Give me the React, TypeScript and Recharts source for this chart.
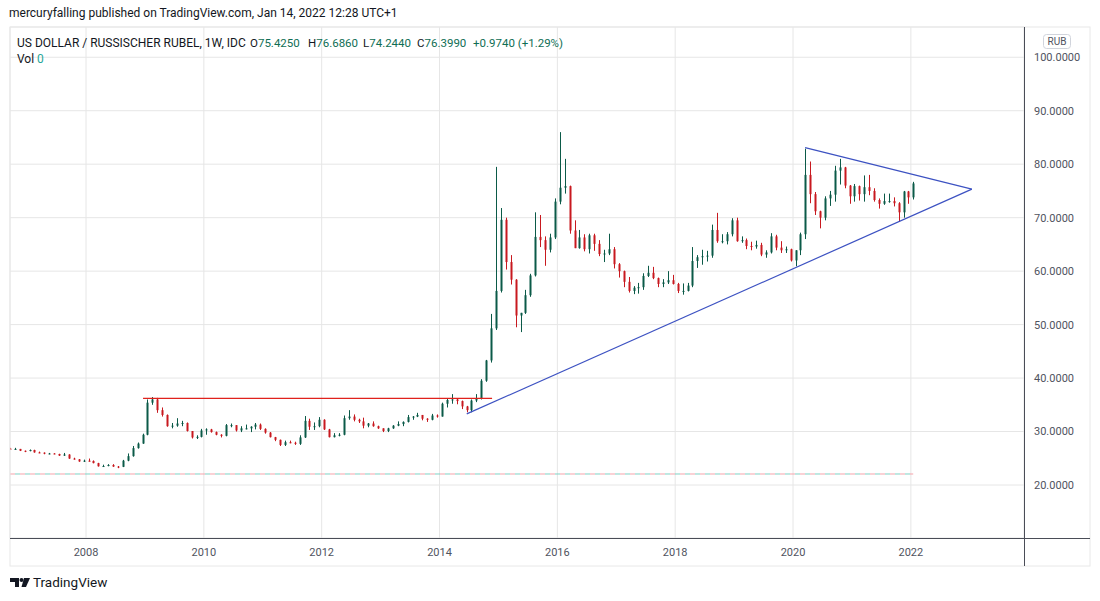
import React from "react";
import { Bar, CartesianGrid, ComposedChart, ReferenceLine, XAxis, YAxis } from "recharts";

// monthly candles, USD/RUB, Sep 2006 .. Jan 2022
const months: string[] = [
  "2006-09", "2006-10", "2006-11", "2006-12",
  "2007-01", "2007-02", "2007-03", "2007-04", "2007-05", "2007-06", "2007-07", "2007-08", "2007-09", "2007-10", "2007-11", "2007-12",
  "2008-01", "2008-02", "2008-03", "2008-04", "2008-05", "2008-06", "2008-07", "2008-08", "2008-09", "2008-10", "2008-11", "2008-12",
  "2009-01", "2009-02", "2009-03", "2009-04", "2009-05", "2009-06", "2009-07", "2009-08", "2009-09", "2009-10", "2009-11", "2009-12",
  "2010-01", "2010-02", "2010-03", "2010-04", "2010-05", "2010-06", "2010-07", "2010-08", "2010-09", "2010-10", "2010-11", "2010-12",
  "2011-01", "2011-02", "2011-03", "2011-04", "2011-05", "2011-06", "2011-07", "2011-08", "2011-09", "2011-10", "2011-11", "2011-12",
  "2012-01", "2012-02", "2012-03", "2012-04", "2012-05", "2012-06", "2012-07", "2012-08", "2012-09", "2012-10", "2012-11", "2012-12",
  "2013-01", "2013-02", "2013-03", "2013-04", "2013-05", "2013-06", "2013-07", "2013-08", "2013-09", "2013-10", "2013-11", "2013-12",
  "2014-01", "2014-02", "2014-03", "2014-04", "2014-05", "2014-06", "2014-07", "2014-08", "2014-09", "2014-10", "2014-11", "2014-12",
  "2015-01", "2015-02", "2015-03", "2015-04", "2015-05", "2015-06", "2015-07", "2015-08", "2015-09", "2015-10", "2015-11", "2015-12",
  "2016-01", "2016-02", "2016-03", "2016-04", "2016-05", "2016-06", "2016-07", "2016-08", "2016-09", "2016-10", "2016-11", "2016-12",
  "2017-01", "2017-02", "2017-03", "2017-04", "2017-05", "2017-06", "2017-07", "2017-08", "2017-09", "2017-10", "2017-11", "2017-12",
  "2018-01", "2018-02", "2018-03", "2018-04", "2018-05", "2018-06", "2018-07", "2018-08", "2018-09", "2018-10", "2018-11", "2018-12",
  "2019-01", "2019-02", "2019-03", "2019-04", "2019-05", "2019-06", "2019-07", "2019-08", "2019-09", "2019-10", "2019-11", "2019-12",
  "2020-01", "2020-02", "2020-03", "2020-04", "2020-05", "2020-06", "2020-07", "2020-08", "2020-09", "2020-10", "2020-11", "2020-12",
  "2021-01", "2021-02", "2021-03", "2021-04", "2021-05", "2021-06", "2021-07", "2021-08", "2021-09", "2021-10", "2021-11", "2021-12",
  "2022-01",
];

const opens: number[] = [
  26.8, 26.75, 26.75, 26.4,
  26.35, 26.55, 26.1, 26.05, 25.85, 25.9, 25.8, 25.5, 25.7, 24.95, 24.8, 24.4,
  24.55, 24.5, 24.1, 23.5, 23.55, 23.75, 23.45, 23.4, 24.55, 25.4, 26.9, 27.75,
  29.4, 35.4, 36.0, 34.0, 33.1, 31.0, 31.1, 31.5, 31.6, 30.1, 28.9, 29.0,
  30.2, 30.4, 29.9, 29.4, 29.2, 31.2, 31.2, 30.2, 30.6, 30.6, 30.9, 31.3,
  30.5, 29.8, 28.95, 28.45, 27.5, 28.0, 27.9, 27.7, 28.9, 32.0, 30.9, 31.0,
  32.2, 30.4, 28.95, 29.3, 29.4, 32.5, 32.8, 32.2, 31.9, 31.1, 31.5, 31.0,
  30.6, 30.1, 30.6, 31.1, 31.4, 31.8, 32.7, 32.8, 33.1, 32.4, 32.2, 33.0,
  32.8, 35.2, 35.9, 36.0, 35.7, 34.7, 34.0, 35.8, 36.1, 39.5, 43.3, 49.3,
  56.3, 69.6, 61.7, 58.4, 51.7, 52.2, 55.5, 59.2, 66.4, 65.8, 64.0, 66.3,
  73.0, 75.6, 75.9, 67.6, 64.3, 66.3, 64.1, 66.7, 65.1, 63.2, 63.3, 64.1,
  61.3, 60.0, 58.0, 56.3, 56.9, 57.0, 59.1, 59.7, 58.7, 57.6, 57.9, 58.3,
  57.6, 56.3, 56.3, 57.3, 61.9, 62.6, 62.8, 62.9, 67.7, 65.6, 65.6, 66.9,
  69.5, 65.6, 65.8, 64.7, 64.6, 64.9, 63.1, 63.5, 66.5, 64.4, 63.9, 64.1,
  62.0, 63.9, 66.9, 78.0, 74.4, 71.2, 70.0, 73.6, 74.3, 78.8, 79.4, 76.0,
  74.0, 75.9, 74.4, 75.7, 75.0, 73.3, 72.6, 73.1, 73.1, 72.7, 71.0, 74.9,
  73.8,
];

const highs: number[] = [
  26.95, 26.95, 26.75, 26.45,
  26.65, 26.6, 26.25, 26.1, 26.0, 25.95, 25.85, 26.0, 25.75, 25.1, 24.85, 24.75,
  24.95, 24.6, 24.15, 23.8, 23.9, 23.9, 23.55, 24.7, 25.9, 27.3, 27.95, 29.6,
  36.0, 36.45, 36.3, 34.5, 33.2, 31.6, 32.5, 32.0, 31.7, 30.1, 29.3, 30.5,
  30.6, 30.5, 30.0, 29.5, 31.4, 31.5, 31.2, 31.0, 31.3, 31.0, 31.6, 31.5,
  30.6, 29.9, 29.0, 28.5, 28.3, 28.3, 28.1, 29.3, 32.9, 32.4, 31.7, 32.7,
  32.3, 30.5, 29.7, 29.7, 33.0, 34.0, 33.2, 32.4, 32.6, 31.6, 31.9, 31.1,
  30.6, 30.7, 31.2, 31.9, 31.9, 33.1, 32.9, 33.5, 33.1, 32.5, 33.3, 33.2,
  35.4, 36.2, 37.0, 36.2, 35.8, 34.8, 36.0, 37.0, 39.8, 43.4, 52.0, 79.5,
  71.8, 70.0, 63.0, 58.5, 52.2, 56.5, 59.5, 71.0, 70.5, 66.5, 67.0, 73.6,
  86.0, 81.0, 76.0, 69.5, 67.7, 66.9, 67.0, 67.0, 65.8, 64.0, 67.0, 64.5,
  61.5, 60.1, 58.9, 57.2, 57.8, 59.6, 61.0, 60.8, 58.8, 58.5, 60.0, 59.3,
  57.8, 57.7, 57.8, 64.5, 63.0, 64.0, 63.8, 68.7, 70.9, 66.9, 67.3, 69.9,
  70.0, 66.5, 66.1, 65.5, 65.7, 65.3, 63.9, 67.1, 66.8, 65.6, 64.6, 64.2,
  63.9, 67.2, 82.9, 80.5, 74.8, 71.3, 74.0, 75.0, 79.7, 81.0, 79.5, 76.1,
  76.3, 76.0, 77.9, 78.0, 75.5, 73.6, 74.5, 74.5, 73.8, 72.9, 75.0, 75.0,
  76.7,
];

const lows: number[] = [
  26.7, 26.65, 26.35, 26.15,
  26.3, 26.05, 25.95, 25.75, 25.75, 25.75, 25.45, 25.45, 24.9, 24.75, 24.35, 24.3,
  24.4, 24.05, 23.45, 23.4, 23.5, 23.4, 23.15, 23.35, 24.45, 25.3, 26.8, 27.7,
  29.3, 35.0, 33.5, 32.8, 30.9, 30.6, 30.9, 31.0, 30.0, 28.7, 28.6, 28.9,
  29.4, 29.8, 29.3, 28.9, 29.1, 30.8, 30.0, 29.9, 30.4, 29.9, 30.4, 30.3,
  29.6, 28.9, 28.2, 27.3, 27.3, 27.8, 27.5, 27.5, 28.8, 30.3, 30.3, 30.8,
  30.3, 28.9, 28.9, 29.1, 29.3, 32.2, 31.9, 31.6, 30.6, 30.8, 30.9, 30.5,
  29.9, 29.9, 30.5, 31.0, 31.0, 31.7, 32.2, 32.7, 32.1, 31.8, 32.1, 32.6,
  32.8, 34.5, 35.2, 35.1, 34.2, 33.6, 33.6, 35.5, 36.0, 39.3, 42.9, 49.0,
  56.0, 60.3, 57.5, 49.5, 48.6, 52.0, 55.2, 59.0, 64.5, 61.0, 63.5, 66.0,
  72.5, 74.5, 67.0, 64.3, 64.2, 63.7, 63.3, 63.8, 62.8, 61.7, 63.0, 60.5,
  58.8, 57.0, 56.0, 55.7, 55.8, 56.5, 58.9, 58.5, 57.0, 57.0, 57.6, 57.5,
  55.9, 55.6, 56.2, 57.0, 60.6, 61.2, 61.8, 62.5, 65.3, 65.2, 65.0, 66.5,
  65.5, 65.3, 64.1, 63.9, 64.2, 62.8, 62.5, 63.3, 63.9, 63.4, 63.4, 61.8,
  60.9, 63.0, 66.0, 72.7, 70.5, 68.0, 69.5, 72.2, 73.0, 76.2, 75.5, 72.6,
  73.0, 73.2, 73.0, 74.2, 73.0, 71.7, 72.4, 72.8, 72.1, 69.2, 70.0, 72.6,
  73.4,
];

const closes: number[] = [
  26.75, 26.75, 26.4, 26.35,
  26.55, 26.1, 26.05, 25.85, 25.9, 25.8, 25.5, 25.7, 24.95, 24.8, 24.4, 24.55,
  24.5, 24.1, 23.5, 23.55, 23.75, 23.45, 23.4, 24.55, 25.4, 26.9, 27.75, 29.4,
  35.4, 36.0, 34.0, 33.1, 31.0, 31.1, 31.5, 31.6, 30.1, 28.9, 29.0, 30.2,
  30.4, 29.9, 29.4, 29.2, 31.2, 31.2, 30.2, 30.6, 30.6, 30.9, 31.3, 30.5,
  29.8, 28.95, 28.45, 27.5, 28.0, 27.9, 27.7, 28.9, 32.0, 30.9, 31.0, 32.2,
  30.4, 28.95, 29.3, 29.4, 32.5, 32.8, 32.2, 31.9, 31.1, 31.5, 31.0, 30.6,
  30.1, 30.6, 31.1, 31.4, 31.8, 32.7, 32.8, 33.1, 32.4, 32.2, 33.0, 32.8,
  35.2, 35.9, 36.0, 35.7, 34.7, 34.0, 35.8, 36.1, 39.5, 43.3, 49.3, 56.3,
  69.6, 61.7, 58.4, 51.7, 52.2, 55.5, 59.2, 66.4, 65.8, 64.0, 66.3, 73.0,
  75.6, 75.9, 67.6, 64.3, 66.3, 64.1, 66.7, 65.1, 63.2, 63.3, 64.1, 61.3,
  60.0, 58.0, 56.3, 56.9, 57.0, 59.1, 59.7, 58.7, 57.6, 57.9, 58.3, 57.6,
  56.3, 56.3, 57.3, 61.9, 62.6, 62.8, 62.9, 67.7, 65.6, 65.6, 66.9, 69.5,
  65.6, 65.8, 64.7, 64.6, 64.9, 63.1, 63.5, 66.5, 64.4, 63.9, 64.1, 62.0,
  63.9, 66.9, 78.0, 74.4, 71.2, 70.0, 73.6, 74.3, 78.8, 79.4, 76.0, 74.0,
  75.9, 74.4, 75.7, 75.0, 73.3, 72.6, 73.1, 73.1, 72.7, 71.0, 74.9, 73.8,
  76.4,
];

const yearTicks = [2008, 2010, 2012, 2014, 2016, 2018, 2020, 2022];
const priceTicks = [20, 30, 40, 50, 60, 70, 80, 90, 100];

// drawn lines: [start year, start price, end year, end price]
const resistance = [2008.968, 36.2, 2014.892, 36.2];
const lowerTrend = [2014.462, 33.3, 2023.035, 75.33];
const upperTrend = [2020.205, 83.1, 2023.035, 75.33];
const volZero = [2006.71, 22.06, 2022.04, 22.06];

const UP = "#0b5a48";
const DOWN = "#c8191f";
const LEGEND_GREEN = "#0f6e55";

const data = months.map((m, i) => {
  const [yr, mo] = m.split("-").map(Number);
  return {
    t: yr + (mo - 0.5) / 12,
    range: [lows[i], highs[i]],
    open: opens[i],
    high: highs[i],
    low: lows[i],
    close: closes[i],
  };
});

function Candle(props: any) {
  const { x, y, width, height, payload } = props;
  if (x == null || y == null || !payload) return null;
  const top = Math.min(y, y + height);
  const h = Math.abs(height);
  const span = payload.high - payload.low;
  const k = span > 0 ? h / span : 0;
  const yOpen = top + (payload.high - payload.open) * k;
  const yClose = top + (payload.high - payload.close) * k;
  const color = payload.close >= payload.open ? UP : DOWN;
  const cx = Math.round(x + width / 2);
  const bodyTop = Math.min(yOpen, yClose);
  const bodyH = Math.max(1, Math.abs(yOpen - yClose));
  return (
    <g>
      <line x1={cx + 0.5} x2={cx + 0.5} y1={top} y2={top + h} stroke={color} strokeWidth={1} />
      <rect x={cx - 0.5} y={bodyTop} width={2} height={bodyH} fill={color} />
    </g>
  );
}

const seg = (l: number[]) => [
  { x: l[0], y: l[1] },
  { x: l[2], y: l[3] },
];

export default function App() {
  const font = "Roboto, sans-serif";
  return (
    <div style={{ position: "absolute", left: 0, top: 0, width: 1100, height: 601, background: "#fff" }}>
      <ComposedChart
        width={1100}
        height={601}
        data={data}
        margin={{ top: 27, right: 10, bottom: 35, left: 10 }}
        style={{ position: "absolute", left: 0, top: 0 }}
      >
        <CartesianGrid stroke="#e6e6e6" />
        <XAxis
          dataKey="t"
          type="number"
          domain={[2006.71, 2023.92]}
          ticks={yearTicks}
          allowDataOverflow
          height={28}
          tickLine={false}
          axisLine={false}
          tickMargin={4}
          tick={{ fill: "#50535e", fontSize: 11, fontFamily: font }}
        />
        <YAxis
          orientation="right"
          domain={[10.09, 105.66]}
          ticks={priceTicks}
          allowDataOverflow
          width={66}
          tickLine={false}
          axisLine={false}
          tickMargin={4}
          tickFormatter={(v: number) => v.toFixed(4)}
          tick={{ fill: "#50535e", fontSize: 11, fontFamily: font, textAnchor: "start" }}
        />
        <ReferenceLine segment={seg(volZero)} stroke="#f5a3ab" strokeDasharray="5 5" />
        <ReferenceLine segment={seg(volZero)} stroke="#7fd0c4" strokeDasharray="5 5" strokeDashoffset={5} />
        <Bar dataKey="range" barSize={3} isAnimationActive={false} shape={(p: any) => <Candle {...p} />} />
        <ReferenceLine segment={seg(resistance)} stroke="#e0221c" strokeWidth={1.2} />
        <ReferenceLine segment={seg(lowerTrend)} stroke="#3d52c2" strokeWidth={1.2} />
        <ReferenceLine segment={seg(upperTrend)} stroke="#3d52c2" strokeWidth={1.2} />
      </ComposedChart>
      <svg
        width={1100}
        height={601}
        style={{ position: "absolute", left: 0, top: 0, pointerEvents: "none" }}
        fontFamily={font}
      >
        <rect x={10} y={27} width={1080} height={539} fill="none" stroke="#e8e8e8" />
        <line x1={1024.5} x2={1024.5} y1={27} y2={566} stroke="#4a4d57" />
        <line x1={10} x2={1090} y1={538.5} y2={538.5} stroke="#4a4d57" />
        <text x={9} y={17} fontSize={12} fill="#131722">
          mercuryfalling published on TradingView.com, Jan 14, 2022 12:28 UTC+1
        </text>
        <text x={17} y={47} fontSize={12} fill="#131722">
          US DOLLAR / RUSSISCHER RUBEL, 1W, IDC
        </text>
        <text x={250} y={47} fontSize={11.5} fill="#131722">
          O<tspan fill={LEGEND_GREEN}>75.4250</tspan>
        </text>
        <text x={308} y={47} fontSize={11.5} fill="#131722">
          H<tspan fill={LEGEND_GREEN}>76.6860</tspan>
        </text>
        <text x={363} y={47} fontSize={11.5} fill="#131722">
          L<tspan fill={LEGEND_GREEN}>74.2440</tspan>
        </text>
        <text x={417} y={47} fontSize={11.5} fill="#131722">
          C<tspan fill={LEGEND_GREEN}>76.3990</tspan>
        </text>
        <text x={473} y={47} fontSize={11.5} fill={LEGEND_GREEN}>
          +0.9740 (+1.29%)
        </text>
        <text x={17} y={63} fontSize={12} fill="#131722">
          Vol <tspan fill="#26a69a">0</tspan>
        </text>
        <rect x={1043.5} y={34.5} width={27} height={14} rx={3} fill="#fff" stroke="#d1d4dc" />
        <text x={1057} y={45} fontSize={10} fill="#50535e" textAnchor="middle">
          RUB
        </text>
        <g fill="#131722">
          <path d="M10 578 H19 V587 H15 V582 H10 Z" />
          <circle cx={21.5} cy={580} r={2} />
          <path d="M24 578 H30 L26 587 H21.5 Z" />
        </g>
        <text x={33} y={587} fontSize={13.5} fill="#131722">
          TradingView
        </text>
      </svg>
    </div>
  );
}
